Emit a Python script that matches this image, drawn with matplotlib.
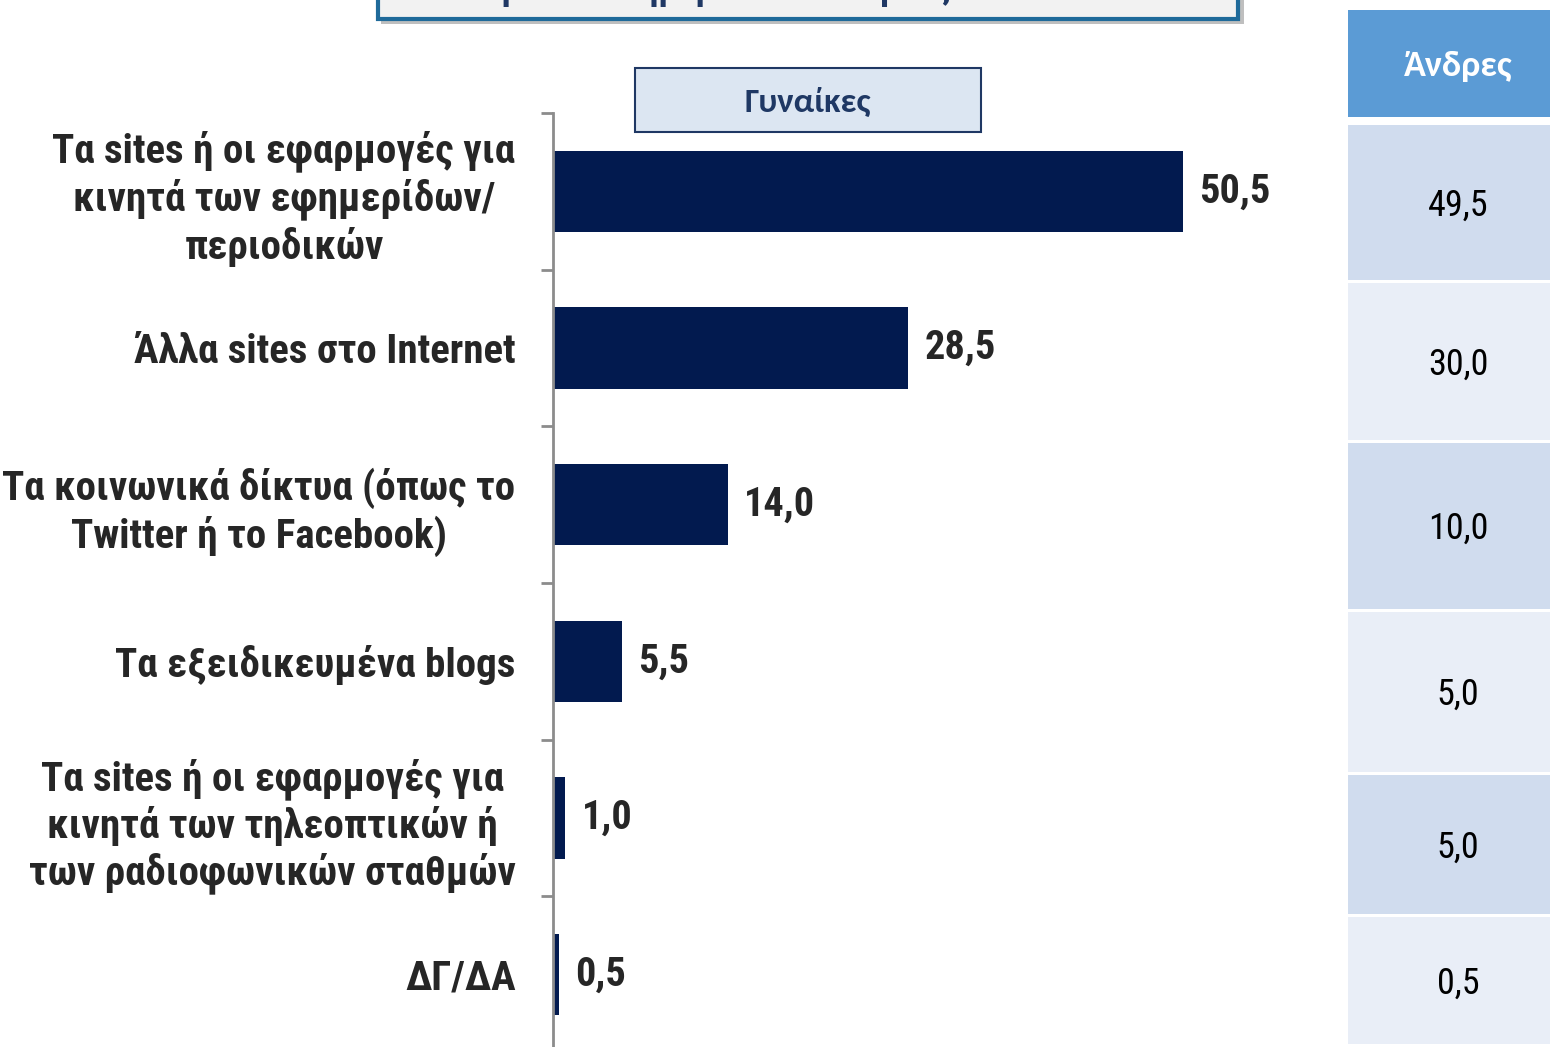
import matplotlib
matplotlib.use("Agg")
import matplotlib.pyplot as plt
from matplotlib.patches import Rectangle

# =========================
# Data
# =========================
categories = [
    "Τα sites ή οι εφαρμογές για\nκινητά των εφημερίδων/\nπεριοδικών",
    "Άλλα sites στο Internet",
    "Τα κοινωνικά δίκτυα (όπως το\nTwitter ή το Facebook)",
    "Τα εξειδικευμένα blogs",
    "Τα sites ή οι εφαρμογές για\nκινητά των τηλεοπτικών ή\nτων ραδιοφωνικών σταθμών",
    "ΔΓ/ΔΑ",
]
women = [50.5, 28.5, 14.0, 5.5, 1.0, 0.5]
men = [49.5, 30.0, 10.0, 5.0, 5.0, 0.5]

title_text = "Βάση: Όσοι ενημερώνονται κυρίως από το Internet"
women_label = "Γυναίκες"
men_label = "Άνδρες"

NARROW = ["Roboto Condensed", "DejaVu Sans"]
CAL = ["Carlito", "Open Sans", "DejaVu Sans"]
W, H = 1550, 1047


def fmt(v):
    return f"{v:.1f}".replace(".", ",")


fig = plt.figure(figsize=(W / 100, H / 100), dpi=100)

# overlay in pixel coords for boxes / table
over = fig.add_axes([0, 0, 1, 1])
over.set_xlim(0, W)
over.set_ylim(H, 0)
over.axis("off")

# =========================
# Bars (women)
# =========================
ax_left = 553
px_per_unit = 12.47
xmax = 60
ax = fig.add_axes([ax_left / W, (H - 1053) / H, xmax * px_per_unit / W, 940 / H])

y = list(range(len(categories)))
ax.barh(y, women, height=0.52, color="#021A4F")
ax.set_ylim(len(categories) - 0.5, -0.5)
ax.set_xlim(0, xmax)

for yi, v in zip(y, women):
    ax.text(v + 1.3, yi, fmt(v), va="center", ha="left", fontsize=29,
            fontweight="bold", color="#262626", family=NARROW)

ax.set_yticks(y)
ax.set_yticklabels(categories)
for lbl in ax.get_yticklabels():
    lbl.set_multialignment("center")
    lbl.set_fontsize(29.5)
    lbl.set_fontweight("bold")
    lbl.set_family(NARROW)
    lbl.set_color("#262626")
    lbl.set_linespacing(1.2)
ax.tick_params(axis="y", which="major", length=0, pad=27)
ax.set_yticks([i - 0.5 for i in range(len(categories) + 1)], minor=True)
ax.tick_params(axis="y", which="minor", length=9, width=2, color="#8C8C8C")
ax.set_xticks([])
for s in ["top", "right", "bottom"]:
    ax.spines[s].set_visible(False)
ax.spines["left"].set_color("#8C8C8C")
ax.spines["left"].set_linewidth(2)
ax.patch.set_alpha(0)

# =========================
# Boxes
# =========================
# title box (cut at top)
over.add_patch(Rectangle((381, -40), 863, 64, facecolor="#BFBFBF", edgecolor="none", zorder=1))
over.add_patch(Rectangle((378, -40), 860, 59, facecolor="#F2F2F2", edgecolor="#1F6A9A",
                         linewidth=3, zorder=2))
over.text(808, -1, title_text, ha="center", va="baseline", fontsize=26, fontweight="bold",
          color="#1F3864", family=NARROW, zorder=3, clip_on=False)

# women label box
over.add_patch(Rectangle((635, 68), 346, 64, facecolor="#DCE6F2", edgecolor="#1F3864",
                         linewidth=1.5))
over.text(808, 102, women_label, ha="center", va="center", fontsize=25, fontweight="bold",
          color="#1F3864", family=CAL)

# =========================
# Men table
# =========================
tx0, tx1 = 1348, 1550
over.add_patch(Rectangle((tx0, 10), tx1 - tx0, 107, facecolor="#5B9BD5", edgecolor="none"))
over.text((tx0 + tx1) / 2 + 9, 66, men_label, ha="center", va="center", fontsize=26,
          fontweight="bold", color="white", family=CAL)

row_edges = [125, 283, 443, 612, 775, 917, 1047]
row_colors = ["#D0DCEE", "#E9EEF7"]
for i, v in enumerate(men):
    top, bot = row_edges[i], row_edges[i + 1] - 3
    over.add_patch(Rectangle((tx0, top), tx1 - tx0, bot - top,
                             facecolor=row_colors[i % 2], edgecolor="none"))
    over.text((tx0 + tx1) / 2 + 9, (top + bot) / 2 + 3, fmt(v), ha="center", va="center",
              fontsize=26, color="black", family=NARROW)

fig.savefig("out.png", dpi=100)
